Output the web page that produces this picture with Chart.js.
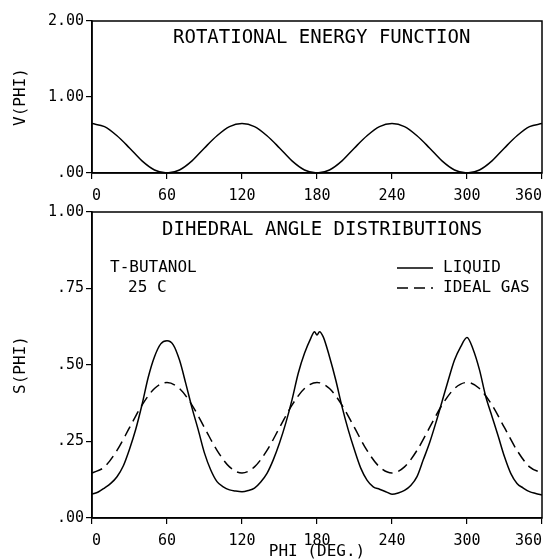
<!DOCTYPE html>
<html lang="en">
<head>
<meta charset="UTF-8">
<title>Rotational Energy Function and Dihedral Angle Distributions</title>
<script src="https://cdn.jsdelivr.net/npm/chart.js"></script>
<style>
  body { margin: 0; background: #fff; }
  .wrap { position: relative; width: 551px; height: 560px; }
  canvas { position: absolute; left: 0; }
  #topChart { top: 0; }
  #bottomChart { top: 190px; }
</style>
</head>
<body>
<div class="wrap">
  <canvas id="topChart" width="551" height="210"></canvas>
  <canvas id="bottomChart" width="551" height="370"></canvas>
</div>
<script>
// x axis (degrees)
const phiTicks = [0, 60, 120, 180, 240, 300, 360];

// top panel: V(PHI)
const energyTicks = [0, 1, 2];
const energyTickLabels = ['.00', '1.00', '2.00'];
const energyPhi = [0,10,20,30,40,50,60,70,80,90,100,110,120,130,140,150,160,170,180,
                   190,200,210,220,230,240,250,260,270,280,290,300,310,320,330,340,350,360];
const energyV = [.65,.61,.49,.33,.16,.04,.00,.04,.16,.33,.49,.61,.65,.61,.49,.33,.16,.04,.00,
                 .04,.16,.33,.49,.61,.65,.61,.49,.33,.16,.04,.00,.04,.16,.33,.49,.61,.65];

// bottom panel: S(PHI)
const distTicks = [0, .25, .5, .75, 1];
const distTickLabels = ['.00', '.25', '.50', '.75', '1.00'];
const liquidPhi = [0,5,10,15,20,25,30,35,40,45,50,55,60,65,70,75,80,85,90,95,100,105,110,115,120,
                   125,130,135,140,145,150,155,160,165,170,175,178,180,182,185,190,195,200,205,210,215,220,225,230,235,240,
                   245,250,255,260,265,270,275,280,285,290,295,300,305,310,315,320,325,330,335,340,345,350,355,360];
const liquidS = [.078,.085,.098,.113,.135,.17,.225,.29,.37,.46,.527,.569,.579,.566,.516,.44,.36,.288,.212,.157,.119,.102,.092,.088,.086,
                 .09,.098,.118,.146,.19,.245,.31,.386,.473,.538,.587,.609,.598,.609,.592,.527,.451,.364,.288,.222,.163,.124,.102,.094,.086,.078,
                 .082,.09,.106,.135,.19,.245,.31,.38,.45,.516,.56,.59,.55,.484,.397,.332,.267,.2,.146,.113,.098,.086,.08,.075];
const gasPhi = energyPhi;
const gasS = [.147,.167,.221,.295,.369,.423,.443,.423,.369,.295,.221,.167,.147,.167,.221,.295,.369,.423,.443,
              .423,.369,.295,.221,.167,.147,.167,.221,.295,.369,.423,.443,.423,.369,.295,.221,.167,.147];

const FONT = '"DejaVu Sans Mono", monospace';
const toPoints = (xs, ys) => xs.map((x, i) => ({ x: x, y: ys[i] }));

// frame, in-panel captions and the line key
const panelText = {
    id: 'panelText',
    afterDatasetsDraw(chart, args, opts) {
        const ctx = chart.ctx;
        const a = chart.chartArea;
        ctx.save();
        ctx.strokeStyle = '#000';
        ctx.lineWidth = 1.5;
        ctx.strokeRect(a.left, a.top, a.right - a.left, a.bottom - a.top);
        ctx.fillStyle = '#000';
        ctx.textBaseline = 'middle';
        ctx.textAlign = 'left';
        (opts.labels || []).forEach(l => {
            ctx.font = l.size + 'px ' + FONT;
            ctx.fillText(l.text, a.left + l.dx, a.top + l.dy);
        });
        if (opts.key) {
            chart.data.datasets.forEach((ds, i) => {
                const y = a.top + opts.key.dy + i * opts.key.gap;
                const x0 = a.left + opts.key.dx;
                ctx.beginPath();
                ctx.setLineDash(ds.borderDash || []);
                ctx.lineWidth = ds.borderWidth;
                ctx.moveTo(x0, y);
                ctx.lineTo(x0 + 36, y);
                ctx.stroke();
                ctx.setLineDash([]);
                ctx.font = '16px ' + FONT;
                ctx.fillText(ds.label, x0 + 46, y);
            });
        }
        ctx.restore();
    }
};

function xScale(height, title) {
    return {
        type: 'linear', min: 0, max: 360,
        afterBuildTicks: s => { s.ticks = phiTicks.map(v => ({ value: v })); },
        afterFit: s => { s.height = height; s.paddingLeft = 0; s.paddingRight = 0; },
        ticks: { color: '#000', padding: 8, maxRotation: 0, align: 'inner', font: { family: FONT, size: 15 } },
        grid: { drawOnChartArea: false, drawTicks: true, tickLength: 6, color: '#000', lineWidth: 1.2 },
        border: { display: true, color: '#000', width: 1.5 },
        title: title ? { display: true, text: title, color: '#000', padding: { top: 0, bottom: 0 },
                         font: { family: FONT, size: 16, lineHeight: 1 } } : { display: false }
    };
}

function yScale(ticks, labels, title) {
    return {
        type: 'linear', min: ticks[0], max: ticks[ticks.length - 1],
        afterBuildTicks: s => { s.ticks = ticks.map(v => ({ value: v })); },
        afterFit: s => { s.width = 92; s.paddingTop = 0; s.paddingBottom = 0; },
        ticks: { color: '#000', padding: 2, font: { family: FONT, size: 15 },
                 callback: (v) => labels[ticks.indexOf(v)] },
        grid: { drawOnChartArea: false, drawTicks: true, tickLength: 6, color: '#000', lineWidth: 1.2 },
        border: { display: true, color: '#000', width: 1.5 },
        title: { display: true, text: title, color: '#000', padding: { top: 11, bottom: 0 },
                 font: { family: FONT, size: 16 } }
    };
}

new Chart(document.getElementById('topChart'), {
    type: 'line',
    data: {
        datasets: [{
            label: 'V(PHI)',
            data: toPoints(energyPhi, energyV),
            borderColor: '#000', borderWidth: 1.5, pointRadius: 0,
            cubicInterpolationMode: 'monotone', clip: 4
        }]
    },
    options: {
        responsive: false, animation: false,
        layout: { padding: { top: 21, right: 9, left: 0, bottom: 0 } },
        scales: { x: xScale(37), y: yScale(energyTicks, energyTickLabels, 'V(PHI)') },
        plugins: {
            legend: { display: false }, tooltip: { enabled: false },
            panelText: { labels: [{ text: 'ROTATIONAL ENERGY FUNCTION', dx: 81, dy: 17, size: 19 }] }
        }
    },
    plugins: [panelText]
});

new Chart(document.getElementById('bottomChart'), {
    type: 'line',
    data: {
        datasets: [{
            label: 'LIQUID',
            data: toPoints(liquidPhi, liquidS),
            borderColor: '#000', borderWidth: 1.5, pointRadius: 0,
            cubicInterpolationMode: 'monotone'
        }, {
            label: 'IDEAL GAS',
            data: toPoints(gasPhi, gasS),
            borderColor: '#000', borderWidth: 1.5, pointRadius: 0, borderDash: [11, 6],
            cubicInterpolationMode: 'monotone'
        }]
    },
    options: {
        responsive: false, animation: false,
        layout: { padding: { top: 22, right: 9, left: 0, bottom: 0 } },
        scales: { x: xScale(42, 'PHI (DEG.)'), y: yScale(distTicks, distTickLabels, 'S(PHI)') },
        plugins: {
            legend: { display: false }, tooltip: { enabled: false },
            panelText: {
                labels: [
                    { text: 'DIHEDRAL ANGLE DISTRIBUTIONS', dx: 70, dy: 18, size: 19 },
                    { text: 'T-BUTANOL', dx: 18, dy: 56, size: 16 },
                    { text: '25 C', dx: 36, dy: 76, size: 16 }
                ],
                key: { dx: 305, dy: 56, gap: 20 }
            }
        }
    },
    plugins: [panelText]
});
</script>
</body>
</html>
